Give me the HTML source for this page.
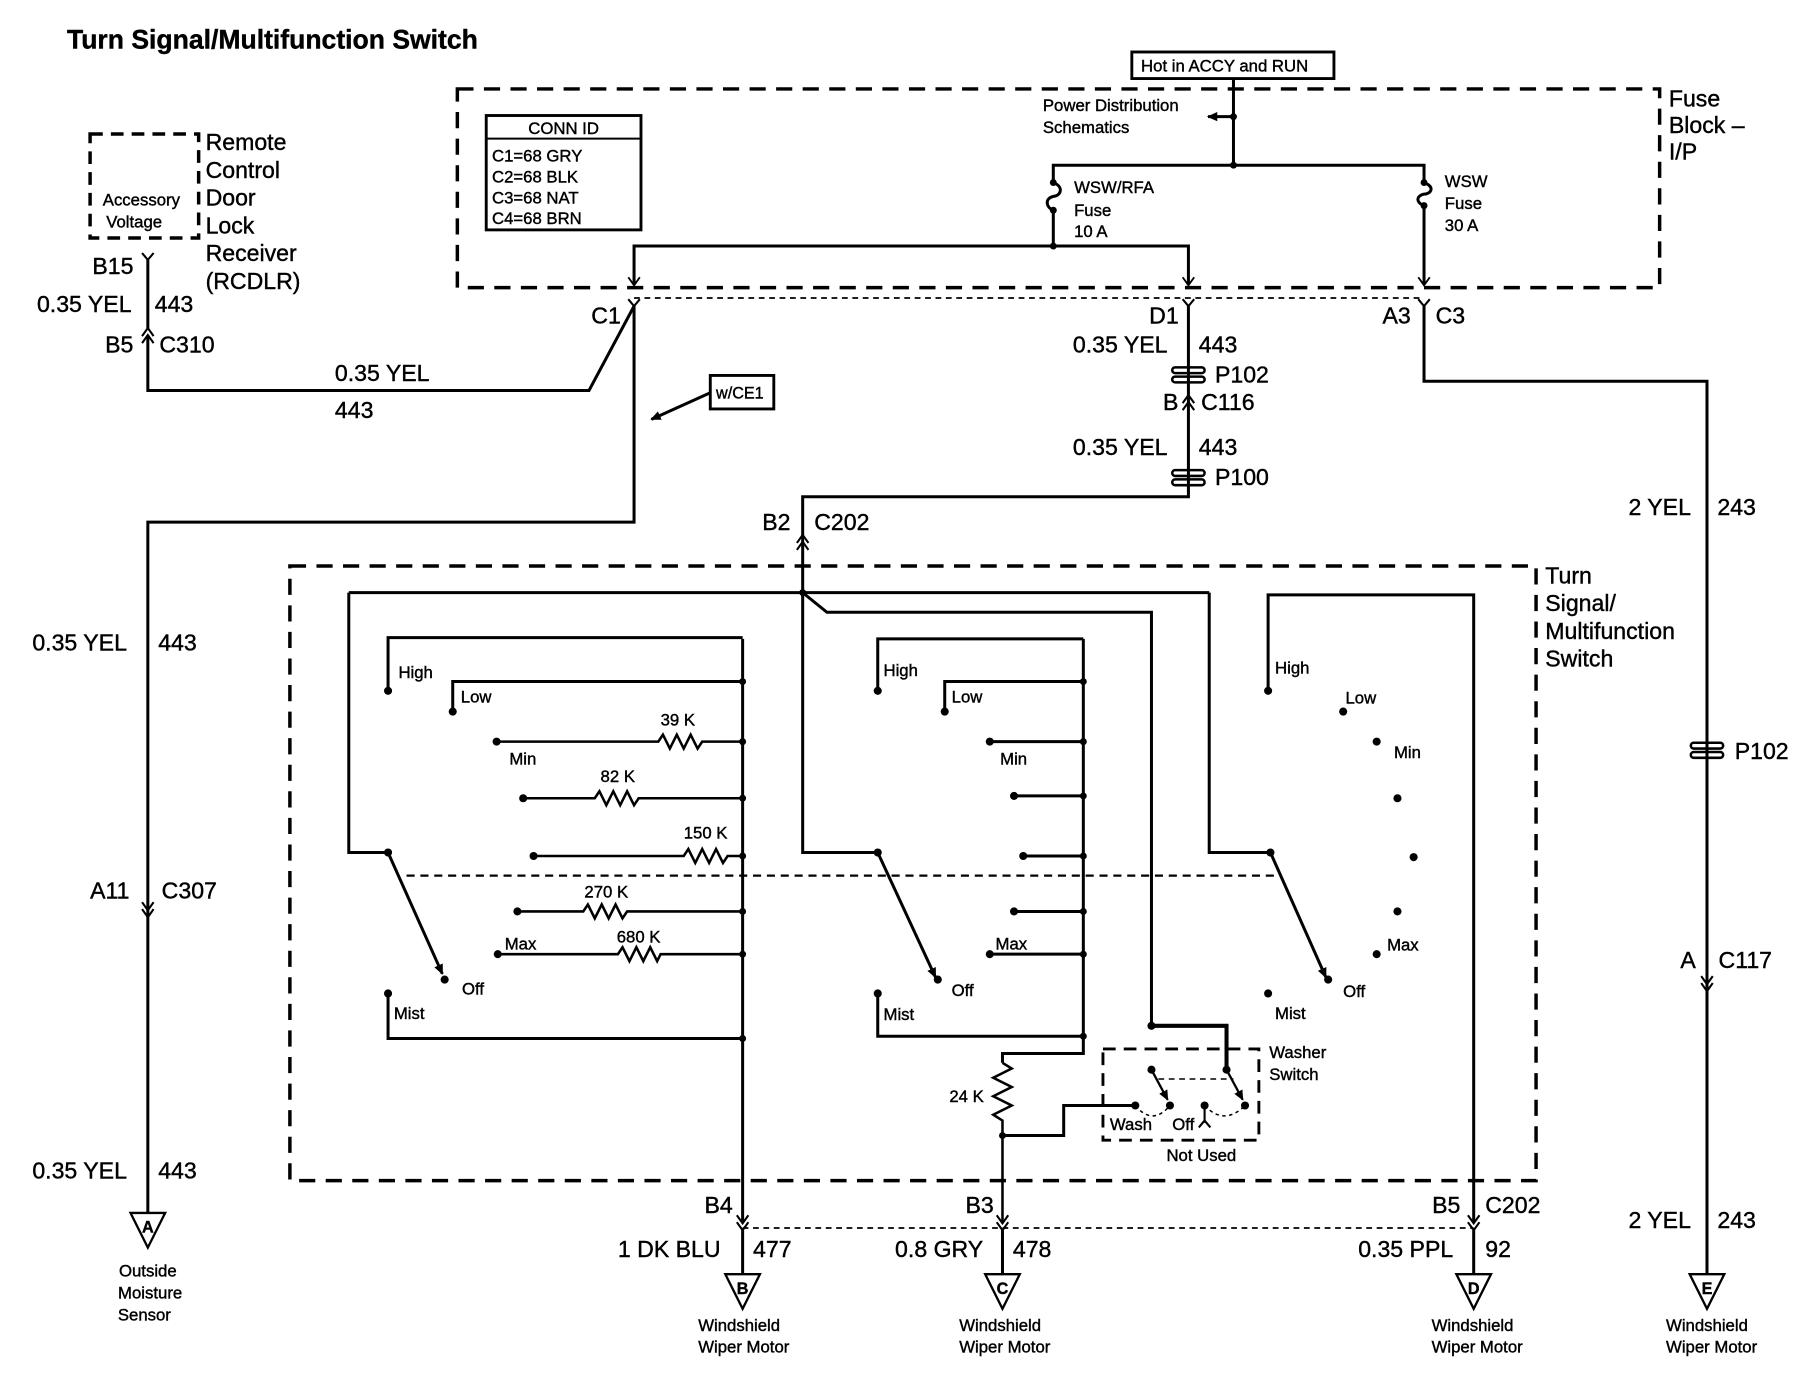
<!DOCTYPE html>
<html><head><meta charset="utf-8"><style>
html,body{margin:0;padding:0;background:#fff;}
svg{display:block;}
text{font-family:"Liberation Sans",Arial,sans-serif;fill:#000;stroke:#000;stroke-width:0.35;}
.b{font-size:20px;}
.s{font-size:14.5px;}
</style></head><body>
<svg width="1804" height="1392" viewBox="0 0 1562 1205" preserveAspectRatio="none" xmlns="http://www.w3.org/2000/svg">
<defs>
<marker id="ar" markerWidth="10" markerHeight="10" refX="8" refY="5" orient="auto" markerUnits="userSpaceOnUse"><path d="M0,1 L9,5 L0,9 Z" fill="#000"/></marker>
</defs>
<g stroke="#000" stroke-width="2.6" fill="none">
<rect x="396" y="77" width="1041" height="172" stroke-dasharray="14,9" stroke-width="3"/>
<rect x="78" y="116" width="94" height="90" stroke-dasharray="11,7" stroke-width="3"/>
<rect x="251" y="490" width="1079" height="532" stroke-dasharray="14,9" stroke-width="3"/>
<rect x="955" y="908" width="135" height="79" stroke-dasharray="11,7" stroke-width="2.5"/>
<line x1="549" y1="258" x2="1232" y2="258" stroke-dasharray="5,4" stroke-width="1.5"/>
<line x1="643" y1="1063" x2="1276" y2="1063" stroke-dasharray="5,4" stroke-width="1.5"/>
<line x1="352" y1="758" x2="1105" y2="758" stroke-dasharray="7,5" stroke-width="2"/>
<rect x="980" y="45" width="175" height="23" stroke-width="2.5"/>
<rect x="421" y="100" width="134" height="99" stroke-width="2.5"/>
<line x1="421" y1="120" x2="555" y2="120" stroke-width="1.8"/>
<rect x="615" y="325" width="55" height="29" stroke-width="2.5"/>
<line x1="615" y1="340" x2="564" y2="363" marker-end="url(#ar)"/>
<line x1="1068" y1="68" x2="1068" y2="143"/>
<line x1="1068" y1="101" x2="1046" y2="101" marker-end="url(#ar)"/>
<polyline points="912,158 912,143 1233,143 1233,158"/>
<path d="M912,158 C922,162 918,170 912,170 C904,172 906,180 912,182"/>
<path d="M1233,158 C1243,162 1239,168 1233,168 C1225,170 1227,176 1233,178"/>
<line x1="912" y1="182" x2="912" y2="213"/>
<polyline points="549,246 549,213 1029,213 1029,246"/>
<line x1="1233" y1="178" x2="1233" y2="246"/>
<path d="M544,240 L549,247 L554,240 M1024,240 L1029,247 L1034,240 M1228,240 L1233,247 L1238,240" stroke-width="1.6"/>
<path d="M544,259 L549,265 L554,259 M1024,259 L1029,265 L1034,259 M1228,259 L1233,265 L1238,259 M123,219 L128,225 L133,219" stroke-width="1.8"/>
<polyline points="549,265 510,338 128,338 128,290"/>
<path d="M123,291 L128,284 L133,291 M123,297 L128,290 L133,297" stroke-width="1.8"/>
<line x1="128" y1="225" x2="128" y2="284"/>
<polyline points="549,265 549,452 128,452 128,1050"/>
<path d="M123,781 L128,788 L133,781 M123,787 L128,794 L133,787" stroke-width="1.8"/>
<polyline points="1029,265 1029,430 695,430 695,513"/>
<path d="M1024,349 L1029,342 L1034,349 M1024,355 L1029,348 L1034,355" stroke-width="1.8"/>
<path d="M690,470 L695,463 L700,470 M690,476 L695,469 L700,476" stroke-width="1.8"/>
<polyline points="1233,265 1233,330 1478,330 1478,1103"/>
<path d="M1473,845 L1478,852 L1483,845 M1473,851 L1478,858 L1483,851" stroke-width="1.8"/>
<line x1="302" y1="513" x2="1047" y2="513"/>
<polyline points="302,513 302,738 336,738"/>
<polyline points="695,513 716,530 997,530 997,888"/>
<polyline points="997,888 1062,888 1062,926" stroke-width="3.5"/>
<polyline points="695,513 695,738 760,738"/>
<polyline points="1047,513 1047,738 1100,738"/>
<line x1="336" y1="738" x2="383" y2="843" marker-end="url(#ar)"/>
<line x1="760" y1="738" x2="810" y2="846" marker-end="url(#ar)"/>
<line x1="1100" y1="738" x2="1148" y2="846" marker-end="url(#ar)"/>
<line x1="643" y1="553" x2="643" y2="1058"/>
<polyline points="336,598 336,552 643,552"/>
<polyline points="392,616 392,590 643,590"/>
<polyline points="430,642 570,642 574,636 580,648 586,636 592,648 598,636 604,648 608,642 643,642" stroke-width="2.2"/>
<polyline points="453,691 515,691 519,685 525,697 531,685 537,697 543,685 549,697 553,691 643,691" stroke-width="2.2"/>
<polyline points="462,741 592,741 596,735 602,747 608,735 614,747 620,735 626,747 630,741 643,741" stroke-width="2.2"/>
<polyline points="448,789 505,789 509,783 515,795 521,783 527,795 533,783 539,795 543,789 643,789" stroke-width="2.2"/>
<polyline points="431,826 535,826 539,820 545,832 551,820 557,832 563,820 569,832 572,826 643,826" stroke-width="2.2"/>
<polyline points="336,860 336,899 643,899"/>
<polyline points="938,553 938,912 868,912 868,920"/>
<polyline points="760,598 760,553 938,553"/>
<polyline points="818,616 818,590 938,590"/>
<line x1="857" y1="642" x2="938" y2="642"/>
<line x1="878" y1="689" x2="938" y2="689"/>
<line x1="886" y1="741" x2="938" y2="741"/>
<line x1="878" y1="789" x2="938" y2="789"/>
<line x1="857" y1="826" x2="938" y2="826"/>
<polyline points="760,860 760,897 938,897"/>
<polyline points="868,920 876,925 860,933 876,941 860,949 876,957 860,965 868,970 868,1058" stroke-width="2.2"/>
<polyline points="868,983 921,983 921,957 983,957"/>
<polyline points="1098,598 1098,515 1276,515 1276,1058"/>
<line x1="997" y1="926" x2="1011" y2="952" marker-end="url(#ar)" stroke-width="2"/>
<line x1="1062" y1="926" x2="1076" y2="952" marker-end="url(#ar)" stroke-width="2"/>
<line x1="1003" y1="934" x2="1068" y2="934" stroke-dasharray="5,4" stroke-width="1.3"/>
<path d="M983,957 Q998,975 1013,957 M1043,957 Q1060,975 1078,957" stroke-dasharray="3,3" stroke-width="1.3"/>
<path d="M1043,957 L1043,972 M1038,976 L1043,970 L1048,976" stroke-width="1.8"/>
<path d="M638,1052 L643,1059 L648,1052 M638,1058 L643,1065 L648,1058 M863,1052 L868,1059 L873,1052 M863,1058 L868,1065 L873,1058 M1271,1052 L1276,1059 L1281,1052 M1271,1058 L1276,1065 L1281,1058" stroke-width="1.8"/>
<line x1="643" y1="1065" x2="643" y2="1103"/>
<line x1="868" y1="1065" x2="868" y2="1103"/>
<line x1="1276" y1="1065" x2="1276" y2="1103"/>
<g stroke-width="2.2">
<rect x="1015" y="318" width="28" height="5" rx="2.5"/><rect x="1015" y="326" width="28" height="5" rx="2.5"/>
<rect x="1015" y="407" width="28" height="5" rx="2.5"/><rect x="1015" y="415" width="28" height="5" rx="2.5"/>
<rect x="1464" y="643" width="28" height="5" rx="2.5"/><rect x="1464" y="651" width="28" height="5" rx="2.5"/>
</g>
<g stroke-width="2">
<path d="M113,1050 L143,1050 L128,1080 Z"/>
<path d="M628,1103 L658,1103 L643,1133 Z"/>
<path d="M853,1103 L883,1103 L868,1133 Z"/>
<path d="M1261,1103 L1291,1103 L1276,1133 Z"/>
<path d="M1463,1103 L1493,1103 L1478,1133 Z"/>
</g>
</g>
<g fill="#000">
<circle cx="1068" cy="101" r="3"/><circle cx="1068" cy="143" r="3"/>
<circle cx="912" cy="158" r="3"/><circle cx="912" cy="182" r="3"/><circle cx="912" cy="213" r="3"/>
<circle cx="1233" cy="158" r="3"/><circle cx="1233" cy="178" r="3"/>
<circle cx="695" cy="513" r="3"/>
<circle cx="336" cy="738" r="3.5"/><circle cx="760" cy="738" r="3.5"/><circle cx="1100" cy="738" r="3.5"/>
<circle cx="336" cy="598" r="3.5"/><circle cx="392" cy="616" r="3.5"/><circle cx="430" cy="642" r="3.5"/><circle cx="453" cy="691" r="3.5"/><circle cx="462" cy="741" r="3.5"/><circle cx="448" cy="789" r="3.5"/><circle cx="431" cy="826" r="3.5"/><circle cx="385" cy="848" r="3.5"/><circle cx="336" cy="860" r="3.5"/>
<circle cx="643" cy="590" r="3"/><circle cx="643" cy="642" r="3"/><circle cx="643" cy="691" r="3"/><circle cx="643" cy="741" r="3"/><circle cx="643" cy="789" r="3"/><circle cx="643" cy="826" r="3"/><circle cx="643" cy="899" r="3"/>
<circle cx="760" cy="598" r="3.5"/><circle cx="818" cy="616" r="3.5"/><circle cx="857" cy="642" r="3.5"/><circle cx="878" cy="689" r="3.5"/><circle cx="886" cy="741" r="3.5"/><circle cx="878" cy="789" r="3.5"/><circle cx="857" cy="826" r="3.5"/><circle cx="812" cy="848" r="3.5"/><circle cx="760" cy="860" r="3.5"/>
<circle cx="938" cy="590" r="3"/><circle cx="938" cy="642" r="3"/><circle cx="938" cy="689" r="3"/><circle cx="938" cy="741" r="3"/><circle cx="938" cy="789" r="3"/><circle cx="938" cy="826" r="3"/><circle cx="938" cy="897" r="3"/><circle cx="868" cy="983" r="3"/>
<circle cx="1098" cy="598" r="3.5"/><circle cx="1163" cy="616" r="3.5"/><circle cx="1192" cy="642" r="3.5"/><circle cx="1210" cy="691" r="3.5"/><circle cx="1224" cy="742" r="3.5"/><circle cx="1210" cy="789" r="3.5"/><circle cx="1192" cy="826" r="3.5"/><circle cx="1150" cy="848" r="3.5"/><circle cx="1098" cy="860" r="3.5"/>
<circle cx="997" cy="888" r="3.5"/><circle cx="997" cy="926" r="3.5"/><circle cx="1062" cy="926" r="3.5"/>
<circle cx="983" cy="957" r="3.5"/><circle cx="1013" cy="957" r="3.5"/><circle cx="1043" cy="957" r="3.5"/><circle cx="1078" cy="957" r="3.5"/>
</g>
<text x="58" y="42" style="font-size:23px;font-weight:bold">Turn Signal/Multifunction Switch</text>
<text x="988" y="62" class="s">Hot in ACCY and RUN</text>
<text x="1445" y="92" class="b">Fuse</text><text x="1445" y="115" class="b">Block –</text><text x="1445" y="138" class="b">I/P</text>
<text x="903" y="96" class="s">Power Distribution</text><text x="903" y="115" class="s">Schematics</text>
<text x="930" y="167" class="s">WSW/RFA</text><text x="930" y="187" class="s">Fuse</text><text x="930" y="205" class="s">10 A</text>
<text x="1251" y="162" class="s">WSW</text><text x="1251" y="181" class="s">Fuse</text><text x="1251" y="200" class="s">30 A</text>
<text x="488" y="116" class="s" text-anchor="middle">CONN ID</text>
<text x="426" y="140" class="s">C1=68 GRY</text><text x="426" y="158" class="s">C2=68 BLK</text><text x="426" y="176" class="s">C3=68 NAT</text><text x="426" y="194" class="s">C4=68 BRN</text>
<text x="89" y="178" class="s">Accessory</text><text x="92" y="197" class="s">Voltage</text>
<text x="178" y="130" class="b">Remote</text><text x="178" y="154" class="b">Control</text><text x="178" y="178" class="b">Door</text><text x="178" y="202" class="b">Lock</text><text x="178" y="226" class="b">Receiver</text><text x="178" y="250" class="b">(RCDLR)</text>
<text x="80" y="237" class="b">B15</text>
<text x="32" y="270" class="b">0.35 YEL</text><text x="134" y="270" class="b">443</text>
<text x="91" y="305" class="b">B5</text><text x="138" y="305" class="b">C310</text>
<text x="290" y="330" class="b">0.35 YEL</text><text x="290" y="362" class="b">443</text>
<text x="620" y="345" style="font-size:14px">w/CE1</text>
<text x="512" y="280" class="b">C1</text><text x="995" y="280" class="b">D1</text><text x="1197" y="280" class="b">A3</text><text x="1243" y="280" class="b">C3</text>
<text x="929" y="305" class="b">0.35 YEL</text><text x="1038" y="305" class="b">443</text>
<text x="1052" y="331" class="b">P102</text>
<text x="1007" y="355" class="b">B</text><text x="1040" y="355" class="b">C116</text>
<text x="929" y="394" class="b">0.35 YEL</text><text x="1038" y="394" class="b">443</text>
<text x="1052" y="420" class="b">P100</text>
<text x="660" y="459" class="b">B2</text><text x="705" y="459" class="b">C202</text>
<text x="1410" y="446" class="b">2 YEL</text><text x="1487" y="446" class="b">243</text>
<text x="1502" y="657" class="b">P102</text>
<text x="1455" y="838" class="b">A</text><text x="1488" y="838" class="b">C117</text>
<text x="1410" y="1063" class="b">2 YEL</text><text x="1487" y="1063" class="b">243</text>
<text x="28" y="563" class="b">0.35 YEL</text><text x="137" y="563" class="b">443</text>
<text x="78" y="778" class="b">A11</text><text x="140" y="778" class="b">C307</text>
<text x="28" y="1020" class="b">0.35 YEL</text><text x="137" y="1020" class="b">443</text>
<text x="1338" y="505" class="b">Turn</text><text x="1338" y="529" class="b">Signal/</text><text x="1338" y="553" class="b">Multifunction</text><text x="1338" y="577" class="b">Switch</text>
<text x="345" y="587" class="s">High</text><text x="399" y="608" class="s">Low</text><text x="572" y="628" class="s">39 K</text><text x="441" y="662" class="s">Min</text><text x="520" y="677" class="s">82 K</text><text x="592" y="726" class="s">150 K</text><text x="506" y="777" class="s">270 K</text><text x="437" y="822" class="s">Max</text><text x="534" y="816" class="s">680 K</text><text x="400" y="861" class="s">Off</text><text x="341" y="882" class="s">Mist</text>
<text x="765" y="585" class="s">High</text><text x="824" y="608" class="s">Low</text><text x="866" y="662" class="s">Min</text><text x="862" y="822" class="s">Max</text><text x="824" y="862" class="s">Off</text><text x="765" y="883" class="s">Mist</text><text x="822" y="954" class="s">24 K</text>
<text x="1104" y="583" class="s">High</text><text x="1165" y="609" class="s">Low</text><text x="1207" y="656" class="s">Min</text><text x="1201" y="823" class="s">Max</text><text x="1163" y="863" class="s">Off</text><text x="1104" y="882" class="s">Mist</text>
<text x="1099" y="916" class="s">Washer</text><text x="1099" y="935" class="s">Switch</text>
<text x="961" y="978" class="s">Wash</text><text x="1015" y="978" class="s">Off</text><text x="1010" y="1005" class="s">Not Used</text>
<text x="610" y="1050" class="b">B4</text><text x="836" y="1050" class="b">B3</text><text x="1240" y="1050" class="b">B5</text><text x="1286" y="1050" class="b">C202</text>
<text x="535" y="1088" class="b">1 DK BLU</text><text x="652" y="1088" class="b">477</text>
<text x="775" y="1088" class="b">0.8 GRY</text><text x="877" y="1088" class="b">478</text>
<text x="1176" y="1088" class="b">0.35 PPL</text><text x="1286" y="1088" class="b">92</text>
<g text-anchor="middle" style="font-size:14px;font-weight:bold">
<text x="128" y="1067">A</text><text x="643" y="1120">B</text><text x="868" y="1120">C</text><text x="1276" y="1120">D</text><text x="1478" y="1120">E</text>
</g>
<g class="s" text-anchor="middle">
<text x="128" y="1105">Outside</text><text x="130" y="1124">Moisture</text><text x="125" y="1143">Sensor</text>
<text x="640" y="1152">Windshield</text><text x="644" y="1171">Wiper Motor</text>
<text x="866" y="1152">Windshield</text><text x="870" y="1171">Wiper Motor</text>
<text x="1275" y="1152">Windshield</text><text x="1279" y="1171">Wiper Motor</text>
<text x="1478" y="1152">Windshield</text><text x="1482" y="1171">Wiper Motor</text>
</g>
</svg>
</body></html>
